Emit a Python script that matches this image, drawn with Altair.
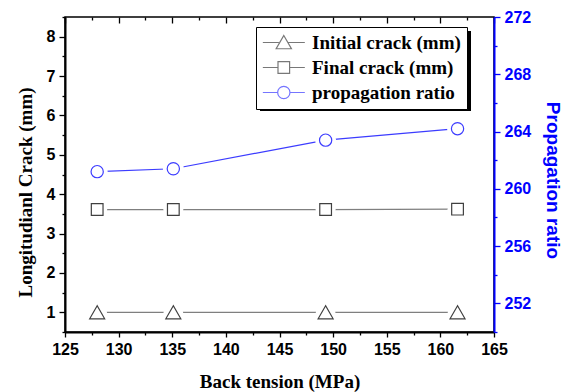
import altair as alt
import pandas as pd

# ---------------- data ----------------
tension = [128.0, 135.1, 149.3, 161.6]
initial_crack = [1.0, 1.0, 1.0, 1.0]
final_crack = [3.61, 3.61, 3.61, 3.62]
propagation_ratio = [261.2, 261.4, 263.4, 264.2]
series_names = ["Initial crack (mm)", "Final crack (mm)", "propagation ratio"]

x_major = [125, 130, 135, 140, 145, 150, 155, 160, 165]
x_minor = [127.5, 132.5, 137.5, 142.5, 147.5, 152.5, 157.5, 162.5]
y_major = [1, 2, 3, 4, 5, 6, 7, 8]
y_minor = [0.5, 1.5, 2.5, 3.5, 4.5, 5.5, 6.5, 7.5, 8.5]
r_major = [252, 256, 260, 264, 268, 272]
r_minor = [250, 254, 258, 262, 266, 270]

initial_df = pd.DataFrame({"tension": tension, "value": initial_crack})
final_df = pd.DataFrame({"tension": tension, "value": final_crack})
ratio_df = pd.DataFrame({"tension": tension, "value": propagation_ratio})
legend_df = pd.DataFrame({"series": series_names})

SERIF = "Liberation Serif"
SANS = "Liberation Sans"
BLUE = "#0000ff"
GRAY_LINE = "#7f7f7f"
DARK = "#404040"
BLUE_MARK = "#3c3cff"

xs = alt.Scale(domain=[125, 165], nice=False, zero=False)
ys = alt.Scale(domain=[0.5, 8.5], nice=False, zero=False)
rs = alt.Scale(domain=[250, 272], nice=False, zero=False)


def tick_axis(orient, values, size, color="black", offset=0):
    return alt.Axis(orient=orient, values=values, labels=False, domain=False,
                    ticks=True, tickSize=size, tickColor=color, tickWidth=1.3,
                    grid=False, title=None, offset=offset)


bottom_axis = alt.Axis(
    orient="bottom", values=x_major, format="d", title="Back tension (MPa)",
    titleFont=SERIF, titleFontSize=19, titleFontWeight="bold", titleColor="black",
    titleY=55, titleBaseline="alphabetic",
    labelFont=SANS, labelFontSize=16, labelFontWeight="bold", labelColor="black",
    labelPadding=4, labelFlush=False, labelOverlap=False,
    tickSize=5, tickWidth=1.3, tickColor="black",
    domainColor="black", domainWidth=2, grid=False)

left_axis = alt.Axis(
    orient="left", values=y_major, format="d", title="Longitudianl Crack (mm)",
    titleFont=SERIF, titleFontSize=19, titleFontWeight="bold", titleColor="black",
    titleX=-34, titleY=175, titleAngle=270, titleBaseline="alphabetic",
    labelFont=SANS, labelFontSize=16, labelFontWeight="bold", labelColor="black",
    labelPadding=4, labelOverlap=False,
    tickSize=6, tickWidth=1.3, tickColor="black",
    domainColor="black", domainWidth=2, grid=False)

right_axis = alt.Axis(
    orient="right", values=r_major, format="d", title="Propagation ratio",
    titleFont=SANS, titleFontSize=19, titleFontWeight="bold", titleColor=BLUE,
    titleX=52, titleY=163, titleAngle=90, titleBaseline="alphabetic",
    labelFont=SANS, labelFontSize=16, labelFontWeight="bold", labelColor=BLUE,
    labelPadding=4, labelOverlap=False,
    tickSize=6, tickWidth=1.3, tickColor=BLUE,
    domainColor=BLUE, domainWidth=2, grid=False)

X = lambda axis: alt.X("tension:Q", scale=xs, axis=axis, title=None)
YL = lambda axis: alt.Y("value:Q", scale=ys, axis=axis, title=None)
YR = lambda axis: alt.Y("value:Q", scale=rs, axis=axis, title=None)

initial_line = alt.Chart(initial_df).mark_line(color=GRAY_LINE, strokeWidth=1.2).encode(
    x=X(bottom_axis), y=YL(left_axis))
initial_halo = alt.Chart(initial_df).mark_point(
    shape="circle", size=380, filled=True, fill="white", strokeWidth=0, opacity=1).encode(
    x=X(None), y=YL(None))
initial_pts = alt.Chart(initial_df).mark_point(
    shape="triangle-up", size=225, filled=True, fill="white", stroke=DARK,
    strokeWidth=1.2, opacity=1).encode(x=X(None), y=YL(None))

final_line = alt.Chart(final_df).mark_line(color=GRAY_LINE, strokeWidth=1.2).encode(
    x=X(None), y=YL(None))
final_halo = alt.Chart(final_df).mark_point(
    shape="circle", size=400, filled=True, fill="white", strokeWidth=0, opacity=1).encode(
    x=X(None), y=YL(None))
final_pts = alt.Chart(final_df).mark_point(
    shape="square", size=137, filled=True, fill="white", stroke=DARK,
    strokeWidth=1.2, opacity=1).encode(x=X(None), y=YL(None))

ratio_line = alt.Chart(ratio_df).mark_line(color=BLUE_MARK, strokeWidth=1.2).encode(
    x=X(None), y=YR(right_axis))
ratio_halo = alt.Chart(ratio_df).mark_point(
    shape="circle", size=440, filled=True, fill="white", strokeWidth=0, opacity=1).encode(
    x=X(None), y=YR(None))
ratio_pts = alt.Chart(ratio_df).mark_point(
    shape="circle", size=150, filled=True, fill="white", stroke=BLUE_MARK,
    strokeWidth=1.2, opacity=1).encode(x=X(None), y=YR(None))

# extra tick-only axes (minor ticks, inward ticks on top)
minor_a = alt.Chart(initial_df).mark_point(opacity=0).encode(
    x=X(tick_axis("bottom", x_minor, 3)), y=YL(tick_axis("left", y_minor, 3)))
minor_b = alt.Chart(ratio_df).mark_point(opacity=0).encode(
    x=X(tick_axis("top", x_major, 6, offset=-6)), y=YR(tick_axis("right", r_minor, 3, color=BLUE)))
minor_c = alt.Chart(ratio_df).mark_point(opacity=0).encode(
    x=X(tick_axis("top", x_minor, 3, offset=-3)), y=YR(None))

# legend (symbol = line + marker)
tri_path = "M-1,0H0.85M1.95,0H3.85M1.42,-0.8L2.3,0.72L0.54,0.72Z"
sq_path = "M-1,0H0.75M2.09,0H3.85M0.75,-0.67H2.09V0.67H0.75Z"
circ_path = ("M-1,0H0.71M2.13,0H3.85M2.13,0A0.71,0.71,0,1,1,0.71,0"
             "A0.71,0.71,0,1,1,2.13,0Z")

leg = alt.Legend(
    title=None, orient="none", legendX=191, legendY=10,
    labelFont=SERIF, labelFontSize=19, labelFontWeight="bold", labelColor="black",
    labelLimit=400, labelOffset=31, symbolSize=300, symbolStrokeWidth=1.2,
    symbolFillColor="white", padding=6, rowPadding=5,
    strokeColor="black", fillColor="white")

legend_layer = alt.Chart(legend_df).transform_filter("false").mark_point(
    filled=True, fill="white", strokeWidth=1.2).encode(
    shape=alt.Shape("series:N", scale=alt.Scale(domain=series_names,
                                                range=[tri_path, sq_path, circ_path]),
                    legend=leg),
    stroke=alt.Stroke("series:N", scale=alt.Scale(domain=series_names,
                                                  range=[DARK, DARK, BLUE_MARK]),
                      legend=leg))

shadow = alt.Chart(alt.Data(values=[{}])).mark_rect(color="black").encode(
    x=alt.value(195), x2=alt.value(406), y=alt.value(14), y2=alt.value(94))

chart = alt.layer(
    shadow, minor_a, minor_b, minor_c,
    initial_line, final_line, ratio_line,
    initial_halo, final_halo, ratio_halo,
    initial_pts, final_pts, ratio_pts, legend_layer
).resolve_scale(
    x="independent", y="independent"
).properties(
    width=429, height=315,
    autosize=alt.AutoSizeParams(type="none"),
    padding={"left": 65, "top": 17, "right": 81, "bottom": 60},
    background="white"
).configure_view(stroke="black", strokeWidth=1.5)

chart.save("out.html", embed_options={"renderer": "svg", "actions": False})
